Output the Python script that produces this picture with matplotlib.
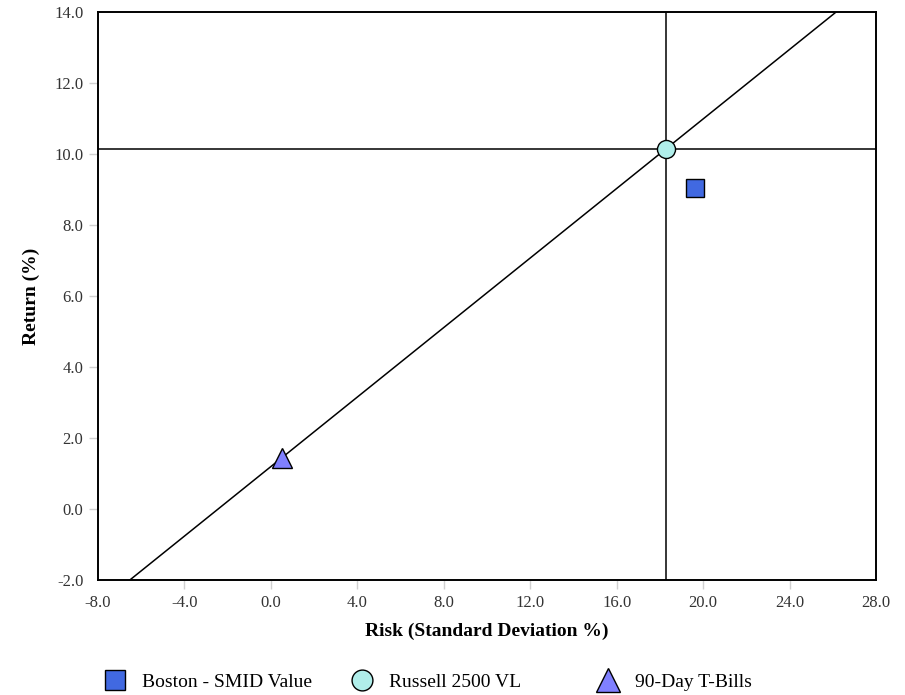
import matplotlib.pyplot as plt
from matplotlib.lines import Line2D

# risk / return values
names = ["Boston - SMID Value", "Russell 2500 VL", "90-Day T-Bills"]
risk = [19.64, 18.27, 0.50]
ret = [9.03, 10.14, 1.44]
markers = ["s", "o", "^"]
colors = ["#4169e1", "#b0eeea", "#8080ff"]
sizes = [13, 13, 15]

xticks = [-8, -4, 0, 4, 8, 12, 16, 20, 24, 28]
yticks = [-2, 0, 2, 4, 6, 8, 10, 12, 14]

plt.rcParams['font.family'] = ['Liberation Serif', 'DejaVu Serif']

fig = plt.figure(figsize=(9.05, 6.95), dpi=100)
ax = fig.add_axes([98/905, 1-580/695, 778/905, 568/695])

ax.set_xlim(-8, 28)
ax.set_ylim(-2, 14)

# line from the risk free rate through the benchmark
rf_x, rf_y = risk[2], ret[2]
bm_x, bm_y = risk[1], ret[1]
slope = (bm_y - rf_y) / (bm_x - rf_x)
x0 = rf_x + (-2 - rf_y) / slope
x1 = rf_x + (14 - rf_y) / slope
ax.plot([x0, x1], [-2, 14], color="black", lw=1.1, zorder=2)
ax.axhline(bm_y, color="black", lw=1.1, zorder=2)
ax.axvline(bm_x, color="black", lw=1.1, zorder=2)

for i in range(len(names)):
    ax.plot(risk[i], ret[i], marker=markers[i], ms=sizes[i], color=colors[i],
            mec="black", mew=1.0, ls="none", zorder=3)

ax.set_xticks(xticks)
ax.set_yticks(yticks)
ax.set_xticklabels(["%.1f" % v for v in xticks])
ax.set_yticklabels(["%.1f" % v for v in yticks])
ax.tick_params(axis="both", direction="out", length=6.5, width=1, color="#d0d0d0",
               labelsize=12, labelcolor="#333333", pad=4)
for t in [ax.xaxis.get_major_ticks()[0], ax.xaxis.get_major_ticks()[-1],
          ax.yaxis.get_major_ticks()[0], ax.yaxis.get_major_ticks()[-1]]:
    t.tick1line.set_visible(False)

for s in ax.spines.values():
    s.set_linewidth(1.4)
    s.set_color("black")

ax.set_xlabel("Risk (Standard Deviation %)", fontsize=14, fontweight="bold", labelpad=9)
ax.set_ylabel("Return (%)", fontsize=14, fontweight="bold", labelpad=10)

# legend entries along the bottom
leg_x = [103, 350, 596]
for i in range(len(names)):
    h = Line2D([], [], marker=markers[i], ms=sizes[i] + 2, color=colors[i],
               mec="black", mew=1.0, ls="none")
    fig.legend([h], [names[i]], loc="center left", frameon=False,
               bbox_to_anchor=(leg_x[i]/905, 1-682/695), fontsize=14,
               handlelength=1.2, handletextpad=0.8, borderaxespad=0, borderpad=0)

fig.savefig("out.png", dpi=100)
